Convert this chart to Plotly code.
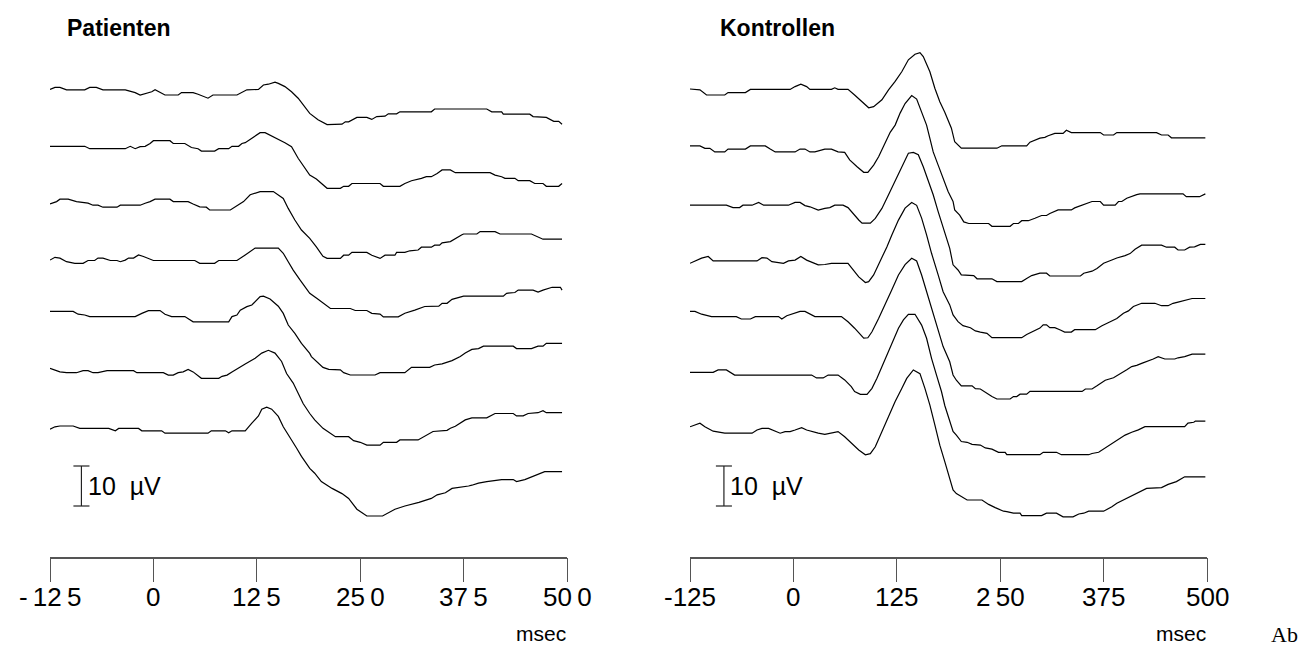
import plotly.graph_objects as go

# ---------------- data (time in ms, amplitude in µV) ----------------
tick_vals = [-125, 0, 125, 250, 375, 500]
tick_text_pat = ["-\u200912\u20095", "0", "12\u20095", "25\u20090", "37\u20095", "50\u20090"]
tick_text_kon = ["-125", "0", "125", "2\u200950", "375", "500"]

pat_t1 = [-125,-119,-113,-105,-83,-77,-69,-61,-34,-22,-16,-10,-2,2,8,14,30,34,48,54,66,72,101,107,113,127,133,139,147,151,159,167,175,189,199,210,228,232,236,246,258,264,270,280,284,294,298,336,340,403,409,421,423,455,459,475,484,490,494]
pat_v1 = [-0.1,0.4,0.4,-0.2,-0.2,0.4,0.4,-0.2,-0.2,-0.9,-1.5,-1.1,-0.7,-0.2,-0.9,-1.5,-1.5,-0.9,-0.9,-1.3,-2.3,-1.5,-1.5,-0.9,-0.2,-0.1,1.0,1.2,1.7,1.4,0.6,-0.7,-2.3,-6.1,-7.7,-8.9,-8.8,-8.2,-8.2,-7.1,-7.1,-7.6,-6.9,-6.8,-6.2,-6.2,-5.7,-5.7,-5.0,-5.0,-5.7,-5.7,-6.3,-6.3,-6.9,-7.1,-8.1,-8.1,-8.8]

pat_t2 = [-125,-83,-77,-34,-28,-22,-16,-10,-4,0,20,24,38,46,54,58,74,79,91,95,103,107,111,119,129,135,147,159,167,175,189,197,210,226,230,236,240,274,278,298,304,312,324,330,336,343,349,359,365,407,413,421,425,437,441,455,461,471,475,490,494]
pat_v2 = [-0.2,-0.2,-0.8,-0.8,-0.2,-0.8,-0.3,-0.2,0.5,1.2,1.2,0.5,0.5,-0.5,-0.8,-1.4,-1.4,-0.8,-0.8,-0.2,-0.2,0.5,0.7,1.8,3.2,3.2,2.0,0.7,-0.3,-3.2,-7.4,-8.4,-10.7,-10.7,-10.2,-10.2,-9.5,-9.5,-10.2,-10.2,-9.5,-8.8,-8.2,-7.8,-7.8,-7.0,-6.1,-6.1,-6.8,-6.8,-7.4,-7.8,-8.2,-8.2,-8.8,-8.8,-9.5,-9.5,-10.2,-10.2,-9.5]

pat_t3 = [-125,-121,-117,-113,-103,-93,-85,-79,-73,-67,-61,-44,-40,-16,-10,-4,2,20,24,42,48,56,64,68,93,99,109,117,123,129,145,151,157,163,171,179,189,197,201,205,210,226,230,236,240,258,264,274,280,292,294,304,310,320,324,336,340,346,349,359,373,375,391,395,413,419,457,471,494]
pat_v3 = [-0.5,-0.2,0.1,0.7,0.7,0.1,-0.2,-0.3,-0.8,-0.8,-1.3,-1.3,-0.8,-0.8,-0.3,0.1,0.7,0.7,0.1,0.1,-0.5,-1.2,-1.3,-2.0,-2.0,-1.2,0.1,1.8,2.2,2.6,2.6,1.8,0.9,-1.6,-4.5,-7.0,-9.1,-11.2,-12.4,-13.6,-14.1,-14.1,-13.3,-13.3,-12.6,-12.6,-13.3,-14.1,-13.3,-13.3,-12.6,-12.6,-12.2,-12.0,-11.3,-11.3,-10.8,-10.8,-10.2,-9.9,-8.2,-8.0,-8.0,-7.4,-7.4,-8.0,-8.0,-9.3,-9.3]

pat_t4 = [-125,-119,-113,-105,-95,-85,-79,-71,-67,-61,-52,-44,-40,-34,-30,-24,-18,-12,0,50,56,74,79,101,111,123,151,157,163,169,177,189,197,205,214,238,244,258,264,274,278,296,304,316,328,345,349,355,361,375,423,427,437,441,459,465,471,482,492,494]
pat_v4 = [-0.4,0.3,0.1,-0.8,-1.2,-1.2,-0.5,-0.5,0.1,0.1,-0.5,-0.5,-0.8,-0.4,0.1,0.1,0.9,0.5,-0.5,-0.5,-1.2,-1.2,-0.5,-0.5,0.9,2.6,2.6,1.3,-0.8,-2.9,-5.3,-8.7,-9.9,-11.2,-12.5,-12.5,-13.0,-13.0,-13.7,-13.9,-14.6,-14.6,-13.7,-12.9,-12.0,-11.9,-11.2,-11.2,-10.2,-9.4,-9.4,-8.7,-8.5,-7.9,-7.9,-8.4,-7.9,-7.2,-7.2,-7.9]

pat_t5 = [-125,-97,-91,-83,-77,-22,-14,-6,8,14,22,38,48,91,95,101,105,113,119,129,133,141,151,157,163,171,179,189,191,201,205,212,226,230,238,268,274,304,312,334,340,349,361,371,377,385,393,399,435,439,457,465,471,475,494]
pat_v5 = [0.9,0.9,0.2,0.0,-0.4,-0.4,0.4,1.1,1.1,0.2,-0.4,-0.4,-1.7,-1.7,-0.4,0.0,1.2,2.1,2.5,4.6,4.7,4.0,2.2,0.4,-2.5,-4.6,-7.1,-9.6,-10.4,-12.5,-13.1,-13.6,-13.7,-14.4,-15.0,-15.0,-14.4,-14.4,-13.1,-13.1,-12.5,-12.2,-11.4,-10.4,-9.5,-8.6,-8.4,-7.8,-7.8,-8.4,-8.4,-7.8,-7.8,-7.1,-7.1]

pat_t6 = [-125,-121,-113,-105,-93,-85,-79,-73,-67,-56,-24,-20,12,18,24,30,36,42,48,58,79,83,89,95,103,111,123,131,139,147,155,161,169,175,181,189,195,205,214,220,236,242,250,258,274,278,294,298,320,326,332,338,355,359,365,373,377,385,403,413,435,439,447,453,465,471,475,494]
pat_v6 = [0.8,0.5,-0.1,-0.3,-0.3,0.2,0.2,-0.3,-0.3,0.2,0.2,-0.3,-0.3,-0.9,-0.9,-0.3,-0.1,0.5,-0.1,-1.7,-1.7,-1.2,-0.9,-0.1,0.8,1.9,3.3,4.6,5.3,4.6,2.5,-0.5,-2.9,-5.4,-8.0,-10.5,-12.1,-14.2,-15.4,-16.3,-16.3,-17.3,-17.7,-18.4,-18.4,-17.7,-17.7,-17.1,-17.1,-16.4,-15.8,-15.0,-14.7,-14.2,-13.7,-12.5,-12.1,-11.6,-11.6,-10.5,-10.5,-11.1,-11.1,-10.5,-10.3,-9.8,-10.3,-10.3]

pat_t7 = [-125,-119,-113,-97,-89,-54,-46,-42,-18,-14,10,14,66,70,87,91,95,111,119,127,131,137,143,151,157,165,173,179,183,189,195,203,216,228,236,246,258,277,292,304,321,336,343,353,361,373,381,385,393,403,421,435,439,449,465,473,494]
pat_v7 = [-0.3,0.3,0.5,0.5,-0.1,-0.1,-0.7,-0.1,-0.1,-0.7,-0.7,-1.3,-1.3,-0.7,-0.7,-1.2,-0.7,-0.7,1.2,3.0,4.7,5.2,4.7,2.9,0.3,-2.2,-5.0,-7.1,-8.4,-10.1,-11.3,-13.4,-15.1,-16.4,-17.6,-20.3,-22.0,-22.0,-20.3,-19.5,-18.6,-17.6,-16.7,-16.2,-15.1,-14.8,-14.5,-14.3,-13.8,-13.4,-12.9,-12.9,-13.4,-12.9,-11.5,-10.9,-10.9]

kon_t1 = [-125,-113,-105,-83,-79,-58,-52,-4,2,9,16,20,46,50,54,66,74,83,91,97,107,115,123,131,139,147,153,157,165,171,177,183,187,191,195,203,246,252,282,286,298,304,308,316,326,330,336,371,375,387,391,439,445,453,457,498]
kon_v1 = [0.0,-0.2,-1.5,-1.5,-0.9,-0.9,-0.1,-0.1,0.6,1.2,0.6,-0.1,-0.1,0.3,-0.1,-0.1,-1.5,-3.2,-4.7,-4.4,-2.7,-0.2,1.9,4.3,7.3,8.7,9.1,8.1,4.3,0.2,-3.2,-5.8,-7.8,-9.8,-13.2,-14.8,-14.8,-14.2,-14.2,-13.3,-12.3,-12.1,-11.7,-11.1,-11.1,-10.3,-10.9,-10.9,-11.5,-11.5,-10.9,-10.9,-11.5,-11.5,-12.2,-12.2]

kon_t2 = [-125,-113,-107,-101,-95,-83,-79,-58,-52,-34,-28,-22,2,8,14,20,26,38,46,54,62,68,77,85,90,97,103,111,117,123,129,135,143,149,155,161,165,169,175,181,187,193,195,201,206,212,236,240,262,266,272,276,284,292,300,306,310,320,336,340,349,361,371,375,389,393,397,403,415,419,471,475,491,498]
kon_v2 = [-0.1,-0.1,-0.7,-0.7,-1.6,-1.6,-0.9,-0.9,-0.1,-0.1,-0.9,-1.6,-1.6,-0.9,-0.9,-1.6,-1.6,-0.9,-0.9,-1.6,-1.7,-3.6,-5.3,-6.7,-6.7,-4.9,-2.8,0.5,3.3,5.1,8.1,10.5,12.5,11.6,8.4,5.1,1.8,-1.6,-4.9,-8.2,-11.5,-14.0,-16.1,-17.4,-19.1,-19.5,-19.5,-20.2,-20.2,-19.5,-19.5,-18.8,-18.8,-18.2,-17.5,-17.5,-17.0,-16.1,-16.1,-15.6,-14.9,-14.0,-14.0,-14.9,-14.9,-14.0,-14.0,-13.2,-12.3,-12.1,-12.1,-12.8,-12.8,-12.1]

kon_t3 = [-125,-81,-73,-65,-61,-50,-42,-36,-6,2,8,14,20,24,30,38,44,50,60,66,72,79,83,93,99,107,115,121,127,133,139,145,151,157,163,169,175,181,189,193,199,203,218,222,240,246,276,282,288,298,306,310,347,351,361,367,375,385,391,401,407,413,421,445,451,461,465,473,479,485,492,498]
kon_v3 = [-0.8,-0.8,-1.4,-1.4,-0.8,-0.8,-0.1,-0.8,-0.8,-0.1,-0.1,-0.9,-1.2,-1.6,-2.0,-1.6,-1.4,-0.8,-0.8,-1.4,-2.9,-4.5,-5.3,-5.3,-4.1,-1.6,1.8,4.3,7.1,9.7,12.2,12.4,11.8,8.8,5.5,1.8,-2.4,-6.6,-11.6,-15.7,-17.0,-18.2,-18.4,-19.2,-19.2,-19.9,-19.9,-19.1,-18.4,-17.8,-17.8,-18.5,-18.5,-17.8,-17.3,-16.6,-15.3,-14.5,-14.0,-13.4,-12.9,-11.8,-10.8,-10.8,-11.3,-11.3,-12.0,-12.0,-11.3,-11.2,-10.6,-10.6]

kon_t4 = [-125,-119,-111,-103,-97,-44,-38,-32,-26,-12,-6,2,9,16,22,30,38,46,66,72,79,87,91,97,105,113,119,127,135,143,149,155,161,167,175,181,189,193,199,205,214,220,226,234,240,276,282,290,298,302,306,310,316,322,328,336,340,365,373,383,391,399,405,411,421,437,445,453,459,465,473,482,498]
kon_v4 = [-1.2,-0.6,0.1,0.5,-0.6,-0.6,0.2,0.1,-0.8,-1.2,-0.6,-0.4,0.5,-0.4,-0.9,-1.6,-1.5,-1.2,-1.2,-2.9,-4.6,-6.0,-5.8,-4.1,-0.8,2.9,5.9,9.6,12.6,14.0,13.3,10.1,5.9,1.3,-4.1,-8.3,-11.6,-14.1,-15.8,-16.8,-17.3,-18.1,-18.4,-18.7,-19.8,-19.8,-19.0,-18.1,-17.4,-16.6,-16.6,-17.3,-17.3,-17.8,-18.4,-18.4,-17.8,-17.8,-16.8,-15.8,-15.0,-13.7,-13.1,-12.0,-11.2,-11.2,-11.8,-11.8,-11.2,-10.9,-10.4,-10.0,-10.0]

kon_t5 = [-125,-119,-111,-99,-69,-63,-52,-46,-18,-14,-8,-2,8,14,20,26,58,66,74,81,85,90,95,103,111,119,127,135,143,149,155,161,167,175,181,189,193,197,203,216,220,226,230,240,246,262,266,270,274,282,286,349,353,361,367,377,387,395,403,409,415,421,429,435,441,449,461,465,473,482,498]
kon_v5 = [0.9,0.9,0.2,-0.4,-0.4,-1.0,-1.0,-0.4,-0.4,-1.0,-0.2,0.2,0.9,0.9,0.2,-0.4,-0.4,-1.7,-3.3,-4.8,-5.8,-5.7,-4.2,-0.9,2.5,6.3,10.0,12.6,14.2,13.5,10.0,5.8,1.7,-3.7,-7.9,-11.7,-15.0,-16.3,-17.7,-17.7,-18.4,-18.5,-19.1,-20.4,-21.0,-21.0,-20.4,-20.4,-19.8,-19.8,-19.1,-19.1,-18.5,-18.5,-17.7,-16.3,-15.7,-14.8,-13.7,-12.9,-12.6,-12.1,-11.5,-11.0,-10.4,-11.0,-11.0,-10.7,-10.4,-9.8,-9.8]

kon_t6 = [-125,-97,-91,-81,-71,22,28,36,42,54,62,70,74,81,89,95,101,107,115,121,127,133,139,147,155,161,167,173,179,183,188,193,197,203,210,216,226,232,240,248,256,258,298,302,318,324,357,361,369,377,385,393,401,409,417,425,473,477,484,486,498]
kon_v6 = [-0.2,-0.2,0.4,0.4,-0.9,-0.9,-1.6,-1.6,-0.9,-0.9,-2.1,-3.8,-5.0,-5.7,-5.7,-4.2,-1.7,1.2,5.0,8.3,10.8,12.9,14.3,14.3,11.6,8.3,3.3,-0.9,-5.0,-8.5,-11.7,-15.0,-15.9,-17.5,-17.7,-18.2,-18.4,-19.1,-19.4,-20.2,-20.2,-20.8,-20.8,-20.2,-20.2,-20.8,-20.8,-20.5,-20.2,-19.1,-18.2,-17.1,-15.9,-15.2,-14.6,-13.8,-13.8,-12.9,-12.7,-12.4,-12.4]

kon_t7 = [-125,-119,-113,-107,-97,-83,-50,-44,-38,-30,-26,-16,-10,-4,2,10,16,22,30,38,46,54,62,70,79,87,93,99,107,115,123,131,137,145,153,159,165,171,177,183,189,193,197,203,210,228,236,244,254,258,266,274,276,300,306,318,326,338,345,351,357,375,385,391,397,405,415,421,427,445,453,463,467,473,498]
kon_v7 = [0.3,0.8,1.2,0.3,-0.8,-1.3,-1.3,-0.5,-0.1,-0.1,-0.5,-1.3,-0.9,-0.9,-0.5,0.1,-0.5,-0.9,-1.3,-1.6,-1.3,-0.9,-2.2,-3.8,-5.5,-6.7,-6.4,-4.7,-0.9,2.9,6.6,9.9,12.4,14.5,13.6,9.9,5.7,0.8,-4.3,-8.4,-12.6,-15.5,-16.4,-17.2,-18.0,-18.0,-19.1,-19.9,-20.8,-20.9,-21.3,-21.3,-21.9,-21.9,-21.3,-21.3,-22.2,-22.2,-21.5,-21.3,-20.8,-20.8,-19.7,-18.8,-18.2,-17.4,-16.4,-15.9,-15.1,-14.9,-14.1,-13.4,-13.0,-12.2,-12.2]

scale_bar_uv = 10

pat_times = [pat_t1, pat_t2, pat_t3, pat_t4, pat_t5, pat_t6, pat_t7]
pat_vals = [pat_v1, pat_v2, pat_v3, pat_v4, pat_v5, pat_v6, pat_v7]
kon_times = [kon_t1, kon_t2, kon_t3, kon_t4, kon_t5, kon_t6, kon_t7]
kon_vals = [kon_v1, kon_v2, kon_v3, kon_v4, kon_v5, kon_v6, kon_v7]

# ---------------- layout constants ----------------
W, H = 1302, 649
PX_PER_UV = 4.0
TOP_BASE_PX = 89.0
STEP_PX = 56.5
AXIS_PX = 556.7
STEP_UV = STEP_PX / PX_PER_UV
Y_TOP = TOP_BASE_PX / PX_PER_UV
Y_BOT = Y_TOP - AXIS_PX / PX_PER_UV

FONT = "Liberation Sans, Arial, sans-serif"

fig = go.Figure()
for xa, times, vals in (("x", pat_times, pat_vals), ("x2", kon_times, kon_vals)):
    for k, (t, v) in enumerate(zip(times, vals)):
        fig.add_trace(go.Scatter(
            x=t, y=[val - k * STEP_UV for val in v], mode="lines",
            line=dict(color="black", width=1.2), xaxis=xa, yaxis="y",
            hoverinfo="skip", showlegend=False))

axis_common = dict(range=[-125, 500], tickvals=tick_vals, ticks="outside",
                   ticklen=24, tickwidth=1, tickcolor="#555", showline=True,
                   linecolor="#555", linewidth=1.5, showgrid=False, zeroline=False,
                   showticklabels=False, automargin=False,
                   anchor="y", fixedrange=True)

fig.update_layout(
    width=W, height=H, margin=dict(l=0, r=0, t=0, b=0, autoexpand=False),
    paper_bgcolor="white", plot_bgcolor="white", showlegend=False,
    xaxis=dict(domain=[50 / W, 567 / W], **axis_common),
    xaxis2=dict(domain=[690 / W, 1207 / W], **axis_common),
    yaxis=dict(domain=[(H - AXIS_PX) / H, 1], range=[Y_BOT, Y_TOP], visible=False,
               fixedrange=True, automargin=False),
)

# tick labels (drawn as text so their height matches the reference)
for xref, labels in (("x", tick_text_pat), ("x2", tick_text_kon)):
    for tv, lab in zip(tick_vals, labels):
        fig.add_annotation(text=lab, xref=xref, yref="paper", x=tv, y=1 - 597 / H,
                           xanchor="center", yanchor="middle", showarrow=False,
                           font=dict(family=FONT, size=26, color="black"))

# scale bars
bar_top = Y_TOP - 466 / PX_PER_UV
bar_bot = bar_top - scale_bar_uv
for xref, xc in (("x", -87), ("x2", -84)):
    fig.add_shape(type="line", xref=xref, yref="y", x0=xc, x1=xc, y0=bar_top, y1=bar_bot,
                  line=dict(color="#222", width=1.2))
    for yy in (bar_top, bar_bot):
        fig.add_shape(type="line", xref=xref, yref="y", x0=xc - 9.7, x1=xc + 9.7, y0=yy, y1=yy,
                      line=dict(color="#222", width=1.2))
    fig.add_annotation(text="10\u00a0 µV", xref=xref, yref="y", x=xc + 5.5,
                       y=(bar_top + bar_bot) / 2, xanchor="left", yanchor="middle",
                       showarrow=False, font=dict(family=FONT, size=25, color="black"))

# titles
fig.add_annotation(text="<b>Patienten</b>", xref="paper", yref="paper", x=65 / W, y=1 - 28 / H,
                   xanchor="left", yanchor="middle", showarrow=False,
                   font=dict(family=FONT, size=23, color="black"))
fig.add_annotation(text="<b>Kontrollen</b>", xref="paper", yref="paper", x=718 / W, y=1 - 28 / H,
                   xanchor="left", yanchor="middle", showarrow=False,
                   font=dict(family=FONT, size=23, color="black"))

# unit labels
for xpx in (568, 1208):
    fig.add_annotation(text="msec", xref="paper", yref="paper", x=xpx / W, y=1 - 633 / H,
                       xanchor="right", yanchor="middle", showarrow=False,
                       font=dict(family=FONT, size=21, color="black"))
fig.add_annotation(text="Ab", xref="paper", yref="paper", x=1300 / W, y=1 - 634 / H,
                   xanchor="right", yanchor="middle", showarrow=False,
                   font=dict(family="Liberation Serif, Times New Roman, serif", size=22, color="black"))

fig.write_html("out.html")
